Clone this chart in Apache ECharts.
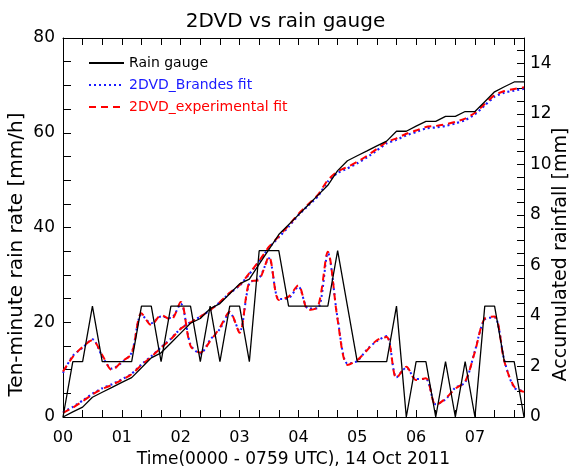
<!DOCTYPE html>
<html>
<head>
<meta charset="utf-8">
<script src="https://cdn.jsdelivr.net/npm/echarts@6/dist/echarts.min.js"></script>
<style>
  html, body { margin: 0; padding: 0; background: #fff; }
  #main { width: 571px; height: 470px; }
</style>
</head>
<body>
<div id="main"></div>
<script>
// time in minutes after 0000 UTC, one point every ten minutes
var times = [0, 10, 20, 30, 40, 50, 60, 70, 80, 90, 100, 110, 120, 130, 140, 150,
  160, 170, 180, 190, 200, 210, 220, 230, 240, 250, 260, 270, 280, 290, 300, 310,
  320, 330, 340, 350, 360, 370, 380, 390, 400, 410, 420, 430, 440, 450, 460, 470];
var hourLabels = ['00', '01', '02', '03', '04', '05', '06', '07'];

// ten-minute rain rate [mm/h]
var gaugeRate = [0, 11.7, 11.7, 23.4, 11.7, 11.7, 11.7, 11.7, 23.4, 23.4, 11.7, 23.4,
  23.4, 23.4, 11.7, 23.4, 11.7, 23.4, 23.4, 11.7, 35.1, 35.1, 35.1, 23.4,
  23.4, 23.4, 23.4, 23.4, 35.1, 23.4, 11.7, 11.7, 11.7, 11.7, 23.4, 0,
  11.7, 11.7, 0, 11.7, 0, 11.7, 0, 23.4, 23.4, 11.7, 11.7, 0];
var brandesRate = [9.3, 12.9, 14.6, 16.4, 12.8, 10.2, 11.5, 13.6, 21.6, 19.8, 21.2, 20.9,
  23.9, 15.3, 13.4, 16.3, 18.6, 22.0, 18.1, 28.2, 29.3, 33.5, 24.9, 25.1,
  27.5, 22.9, 23.0, 34.6, 20.8, 11.3, 11.8, 14.3, 16.0, 17.1, 8.4, 10.4,
  8.0, 8.0, 2.7, 3.7, 6.2, 7.3, 14.0, 20.6, 21.0, 11.9, 6.2, 5.5];
var expRate = [9.6, 12.7, 14.8, 16.2, 13.1, 9.9, 11.7, 13.4, 21.9, 19.4, 21.5, 20.5,
  24.3, 15.0, 13.6, 16.0, 18.9, 22.2, 17.8, 28.5, 29.0, 33.8, 24.7, 25.4,
  27.8, 22.6, 23.3, 34.9, 20.5, 11.0, 12.0, 14.1, 16.2, 16.9, 8.2, 10.6,
  7.8, 8.2, 2.5, 3.9, 6.0, 7.5, 13.8, 20.8, 21.2, 11.7, 6.4, 5.3];

// accumulated rainfall [mm]
var gaugeAcc = [0, 0.2, 0.39, 0.78, 0.98, 1.17, 1.37, 1.56, 1.95, 2.34, 2.54, 2.93,
  3.32, 3.71, 3.9, 4.29, 4.49, 4.88, 5.27, 5.46, 6.05, 6.63, 7.22, 7.61,
  8.0, 8.39, 8.78, 9.17, 9.75, 10.14, 10.34, 10.53, 10.73, 10.92, 11.31, 11.31,
  11.51, 11.7, 11.7, 11.9, 11.9, 12.09, 12.09, 12.48, 12.87, 13.07, 13.26, 13.26];
var brandesAcc = [0.18, 0.40, 0.65, 0.92, 1.14, 1.30, 1.49, 1.71, 2.08, 2.40, 2.76, 3.10,
  3.50, 3.75, 3.97, 4.23, 4.54, 4.90, 5.20, 5.66, 6.15, 6.70, 7.11, 7.53,
  7.99, 8.37, 8.74, 9.32, 9.66, 9.84, 10.04, 10.28, 10.55, 10.83, 10.97, 11.15,
  11.28, 11.42, 11.46, 11.52, 11.62, 11.75, 11.98, 12.33, 12.68, 12.84, 12.92, 12.99];
var expAcc = [0.16, 0.37, 0.62, 0.89, 1.11, 1.27, 1.47, 1.69, 2.06, 2.38, 2.74, 3.08,
  3.49, 3.74, 3.97, 4.23, 4.55, 4.92, 5.22, 5.69, 6.18, 6.74, 7.15, 7.58,
  8.04, 8.42, 8.80, 9.38, 9.72, 9.90, 10.10, 10.34, 10.61, 10.89, 11.03, 11.21,
  11.34, 11.48, 11.52, 11.58, 11.68, 11.81, 12.04, 12.39, 12.74, 12.90, 12.98, 13.05];

var names = ['Rain gauge', '2DVD_Brandes fit', '2DVD_experimental fit'];
var colors = ['#000000', '#1a1aff', '#ff0000'];

function pairs(vals) {
  return times.map(function (t, i) { return [t, vals[i]]; });
}

var FONT = 'DejaVu Sans';

var chart = echarts.init(document.getElementById('main'), null, { renderer: 'canvas' });

// IDL style box: every tick points into the plot, axes stay on the box edges
var boxLine = { show: true, onZero: false, lineStyle: { color: '#000', width: 1 } };

var option = {
  backgroundColor: '#fff',
  animation: false,
  title: {
    text: '2DVD vs rain gauge',
    left: 'center',
    top: 7,
    textStyle: { fontFamily: FONT, fontSize: 20, fontWeight: 'normal', color: '#000' }
  },
  legend: {
    orient: 'vertical',
    left: 83,
    top: 51,
    itemWidth: 35,
    itemHeight: 12,
    itemGap: 8,
    selectedMode: false,
    itemStyle: { opacity: 0 },
    textStyle: { fontFamily: FONT, fontSize: 14 },
    data: [
      { name: names[0], textStyle: { color: colors[0] } },
      { name: names[1], textStyle: { color: colors[1] } },
      { name: names[2], textStyle: { color: colors[2] } }
    ]
  },
  grid: { left: 63, right: 47, top: 38, bottom: 53, outerBoundsMode: 'none' },
  xAxis: [{
    type: 'value',
    min: 0,
    max: 470,
    interval: 20,
    position: 'bottom',
    axisLine: boxLine,
    axisTick: { show: true, inside: true, length: 7, lineStyle: { color: '#000' } },
    splitLine: { show: false },
    axisLabel: {
      color: '#000', fontFamily: FONT, fontSize: 16, margin: 13,
      showMaxLabel: false,
      formatter: function (v) { return v % 60 === 0 ? hourLabels[v / 60] : ''; }
    },
    name: 'Time(0000 - 0759 UTC), 14 Oct 2011',
    nameLocation: 'middle',
    nameGap: 32,
    nameTextStyle: { color: '#000', fontFamily: FONT, fontSize: 17 }
  }, {
    type: 'value',
    min: 0,
    max: 470,
    interval: 20,
    position: 'top',
    axisLine: boxLine,
    axisTick: { show: true, inside: true, length: 7, lineStyle: { color: '#000' } },
    splitLine: { show: false },
    axisLabel: { show: false }
  }],
  yAxis: [{
    type: 'value',
    min: 0,
    max: 80,
    interval: 20,
    position: 'left',
    axisLine: boxLine,
    axisTick: { show: true, inside: true, length: 8, lineStyle: { color: '#000' } },
    minorTick: { show: true, splitNumber: 4, length: 8, lineStyle: { color: '#000' } },
    splitLine: { show: false },
    axisLabel: { color: '#000', fontFamily: FONT, fontSize: 17, margin: 8 },
    name: 'Ten-minute rain rate [mm/h]',
    nameLocation: 'middle',
    nameRotate: 90,
    nameGap: 36,
    nameMoveOverlap: false,
    nameTextStyle: { color: '#000', fontFamily: FONT, fontSize: 20, padding: [0, 54, 0, 0] }
  }, {
    type: 'value',
    min: 0,
    max: 15,
    interval: 2,
    position: 'right',
    axisLine: boxLine,
    axisTick: { show: true, inside: true, length: 7, lineStyle: { color: '#000' } },
    minorTick: { show: true, splitNumber: 4, length: 7, lineStyle: { color: '#000' } },
    splitLine: { show: false },
    axisLabel: { color: '#000', fontFamily: FONT, fontSize: 17, margin: 6, showMaxLabel: false },
    name: 'Accumulated rainfall [mm]',
    nameLocation: 'middle',
    nameRotate: 90,
    nameGap: 28,
    nameMoveOverlap: false,
    nameTextStyle: { color: '#000', fontFamily: FONT, fontSize: 19, padding: [0, 54, 0, 0] }
  }],
  series: [
    {
      name: names[0], type: 'line', yAxisIndex: 0, symbol: 'none',
      lineStyle: { color: colors[0], width: 1.3 }, itemStyle: { color: colors[0] },
      data: pairs(gaugeRate), z: 5
    },
    {
      name: names[1], type: 'line', yAxisIndex: 0, symbol: 'none', smooth: 0.3,
      lineStyle: { color: colors[1], width: 2, type: [2, 3] }, itemStyle: { color: colors[1] },
      data: pairs(brandesRate), z: 3
    },
    {
      name: names[2], type: 'line', yAxisIndex: 0, symbol: 'none', smooth: 0.3,
      lineStyle: { color: colors[2], width: 2, type: [7, 5] }, itemStyle: { color: colors[2] },
      data: pairs(expRate), z: 4
    },
    {
      name: names[0], type: 'line', yAxisIndex: 1, symbol: 'none',
      lineStyle: { color: colors[0], width: 1.3 },
      data: pairs(gaugeAcc), z: 5
    },
    {
      name: names[1], type: 'line', yAxisIndex: 1, symbol: 'none', smooth: 0.2,
      lineStyle: { color: colors[1], width: 2.2, type: [2, 3] },
      data: pairs(brandesAcc), z: 3
    },
    {
      name: names[2], type: 'line', yAxisIndex: 1, symbol: 'none', smooth: 0.2,
      lineStyle: { color: colors[2], width: 2, type: [7, 5] },
      data: pairs(expAcc), z: 4
    }
  ]
};

chart.setOption(option);
window.onresize = chart.resize;
</script>
</body>
</html>
